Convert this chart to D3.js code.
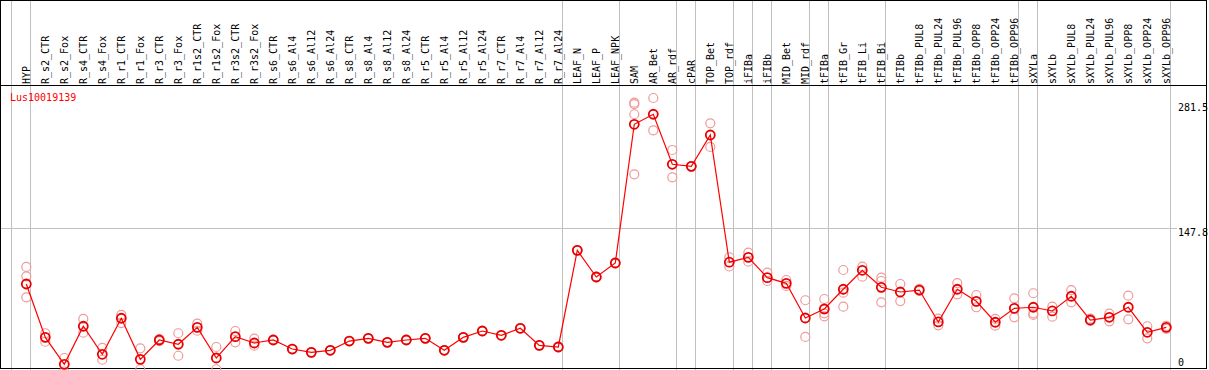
<!DOCTYPE html>
<html>
<head>
<meta charset="utf-8">
<script src="https://cdn.jsdelivr.net/npm/d3@7"></script>
<style>
body { margin: 0; background: #fff; }
text { font-family: "DejaVu Sans Mono", monospace; font-size: 10px; }
</style>
</head>
<body>
<script>
// gene name
var geneName = "Lus10019139"

// sample names in display order
var samples = ["HYP",
  "R_s2_CTR","R_s2_Fox","R_s4_CTR","R_s4_Fox","R_r1_CTR","R_r1_Fox","R_r3_CTR","R_r3_Fox",
  "R_r1s2_CTR","R_r1s2_Fox","R_r3s2_CTR","R_r3s2_Fox",
  "R_s6_CTR","R_s6_Al4","R_s6_Al12","R_s6_Al24","R_s8_CTR","R_s8_Al4","R_s8_Al12","R_s8_Al24",
  "R_r5_CTR","R_r5_Al4","R_r5_Al12","R_r5_Al24","R_r7_CTR","R_r7_Al4","R_r7_Al12","R_r7_Al24",
  "LEAF_N","LEAF_P","LEAF_NPK","SAM","AR_Bet","AR_rdf","cPAR","TOP_Bet","TOP_rdf",
  "iFIBa","iFIBb","MID_Bet","MID_rdf","tFIBa","tFIB_Gr","tFIB_Li","tFIB_Bi",
  "tFIBb","tFIBb_PUL8","tFIBb_PUL24","tFIBb_PUL96","tFIBb_OPP8","tFIBb_OPP24","tFIBb_OPP96",
  "sXYLa","sXYLb","sXYLb_PUL8","sXYLb_PUL24","sXYLb_PUL96","sXYLb_OPP8","sXYLb_OPP24","sXYLb_OPP96"]

// first sample of each tissue group (a separator is drawn before each)
var groupStarts = ["HYP","R_s2_CTR","LEAF_N","SAM","cPAR","TOP_Bet","iFIBa","iFIBb",
  "MID_Bet","tFIBa","tFIB_Gr","tFIBb","sXYLa","sXYLb"]

// mean expression per sample
var means = [90.4,
  35.6,7.9,47.0,18.2,55.2,13.0,32.9,28.5,
  45.9,14.4,36.3,29.8,
  32.9,23.6,20.2,22.3,31.8,34.6,30.5,32.9,
  34.6,22.3,35.6,42.1,37.7,44.9,27.4,25.7,
  125.0,97.6,112.0,254.5,264.8,213.4,211.3,243.5,112.8,
  117.8,96.9,91.1,55.5,64.7,85.0,104.5,87.0,
  82.2,84.2,51.4,85.0,72.6,51.1,65.4,
  66.5,62.7,77.8,53.4,56.2,66.5,40.8,45.9]

// replicate values per sample
var replicates = [[107.9,98.3,76.7],
  [39.8,31.1],[14.4,0.5],[54.5,40.4],[24.7,12.6],[58.6,50.3],[24.3,2.8],[31.8,33.9],[39.8,16.7],
  [49.6,42.4],[25.7,2.8],[42.1,30.5],[34.2,27.0],
  [33.2,32.6],[23.9,23.3],[20.5,19.9],[22.6,22.0],[32.1,31.5],[34.9,34.3],[30.8,30.2],[33.2,32.6],
  [34.9,34.3],[22.6,22.0],[35.9,35.3],[42.4,41.8],[38.0,37.4],[45.2,44.6],[27.7,27.1],[26.0,25.4],
  [125.3,124.7],[97.9,97.3],[112.3,111.7],[276.7,275.3,264.8,203.1],[281.5,248.3],[228.1,200.0],[211.6,211.0],[255.5,231.2],[117.9,108.4],
  [122.6,113.3],[102.0,93.5],[94.5,88.4],[73.7,36.0],[75.0,57.2,60.3],[104.8,67.1,81.5],[108.2,97.9],[96.9,93.5,71.6],
  [90.4,72.9],[85.3,83.2],[54.8,48.0],[91.4,79.8],[79.1,66.5],[54.5,47.6],[75.7,56.2],
  [80.9,60.3,58.6],[67.1,56.8],[84.2,71.6],[54.8,52.4],[59.9,52.1],[78.4,54.1],[47.0,34.6],[47.3,44.2]]

// value axis labels
var yTicks = [0, 147.8, 281.5]
var gridTicks = [147.8]

var width = 1209, height = 370
var svg = d3.select("body").append("svg")
    .attr("width", width)
    .attr("height", height)

var x = d3.scalePoint()
    .domain(samples)
    .range([26.3, 1166.3])

var y = d3.scaleLinear()
    .domain([0, 281.5])
    .range([372, 98])

// separators
svg.selectAll("line.sep")
    .data(groupStarts)
  .enter().append("line")
    .attr("class", "sep")
    .attr("x1", function(d){ return Math.round(x(d) - 15) + 0.5 })
    .attr("x2", function(d){ return Math.round(x(d) - 15) + 0.5 })
    .attr("y1", 0)
    .attr("y2", height)
    .attr("stroke", "#c0c0c0")
var lastX = Math.round(x(samples[samples.length - 1]) + 4) + 0.5
svg.append("line")
    .attr("x1", lastX).attr("x2", lastX)
    .attr("y1", 0).attr("y2", height)
    .attr("stroke", "#c0c0c0")

// horizontal grid
svg.selectAll("line.grid")
    .data(gridTicks)
  .enter().append("line")
    .attr("x1", 0)
    .attr("x2", 1177)
    .attr("y1", function(d){ return Math.round(y(d)) + 0.5 })
    .attr("y2", function(d){ return Math.round(y(d)) + 0.5 })
    .attr("stroke", "#c0c0c0")

// column labels
svg.selectAll("text.col")
    .data(samples)
  .enter().append("text")
    .attr("transform", function(d){ return "translate(" + (x(d) + 3.2) + ",84) rotate(-90)" })
    .attr("fill", "black")
    .text(function(d){ return d })

// header rule and border
svg.append("line")
    .attr("x1", 0).attr("x2", 1207)
    .attr("y1", 85.5).attr("y2", 85.5)
    .attr("stroke", "black")
svg.append("rect")
    .attr("x", 0.5).attr("y", 0.5)
    .attr("width", 1206).attr("height", 368)
    .attr("fill", "none")
    .attr("stroke", "black")

// y labels
svg.selectAll("text.ytick")
    .data(yTicks)
  .enter().append("text")
    .attr("x", 1178)
    .attr("y", function(d){ return Math.max(111, Math.min(366, y(d) + 8)) })
    .attr("fill", "black")
    .text(function(d){ return d })

// replicates
var repPoints = []
replicates.forEach(function(r, i){
    r.forEach(function(v){ repPoints.push([samples[i], v]) })
})
svg.selectAll("circle.rep")
    .data(repPoints)
  .enter().append("circle")
    .attr("cx", function(d){ return x(d[0]) })
    .attr("cy", function(d){ return y(d[1]) })
    .attr("r", 4.5)
    .attr("fill", "none")
    .attr("stroke", "#ee9a9a")
    .attr("stroke-width", 1.2)

// mean line
var line = d3.line()
    .x(function(d, i){ return x(samples[i]) })
    .y(function(d){ return y(d) })
svg.append("path")
    .datum(means)
    .attr("d", line)
    .attr("fill", "none")
    .attr("stroke", "red")
    .attr("stroke-width", 1.2)

svg.selectAll("circle.mean")
    .data(means)
  .enter().append("circle")
    .attr("cx", function(d, i){ return x(samples[i]) })
    .attr("cy", function(d){ return y(d) })
    .attr("r", 4.5)
    .attr("fill", "none")
    .attr("stroke", "#e80000")
    .attr("stroke-width", 1.8)

// gene name
svg.append("text")
    .attr("x", 10)
    .attr("y", 100.5)
    .attr("fill", "red")
    .text(geneName)
</script>
</body>
</html>
